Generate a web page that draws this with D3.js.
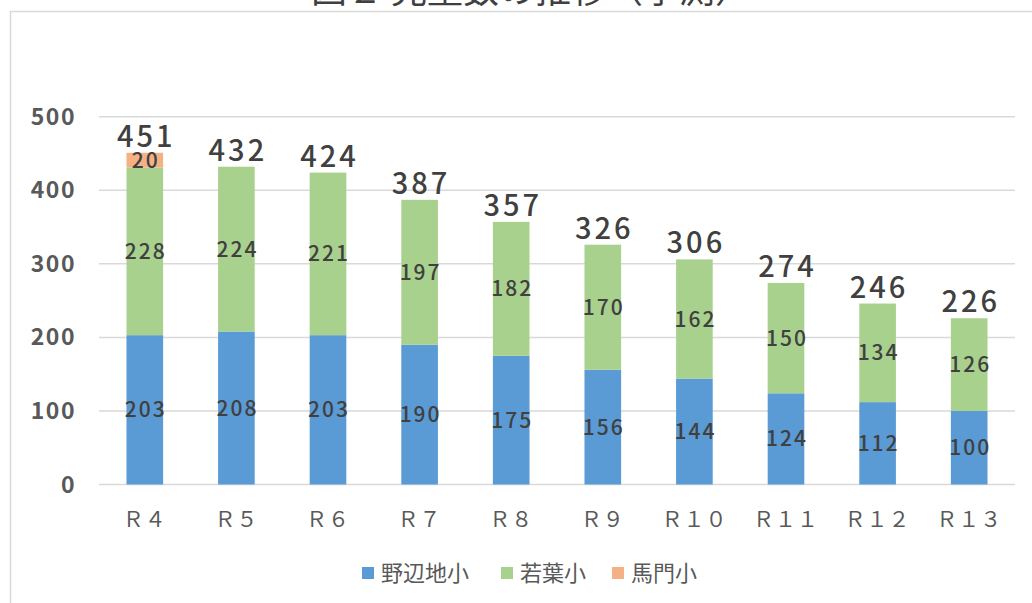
<!DOCTYPE html>
<html lang="ja">
<head>
    <meta charset="utf-8">
    <title>図２ 児童数の推移（予測）</title>
    <script src="https://d3js.org/d3.v7.min.js"></script>
    <style>
        body { margin: 0; background: #fff; }
        svg { display: block; font-family: "Noto Sans CJK JP", "Noto Sans", sans-serif; }
    </style>
</head>
<body>
    <script>
        // data
        const years = ['Ｒ４', 'Ｒ５', 'Ｒ６', 'Ｒ７', 'Ｒ８', 'Ｒ９', 'Ｒ１０', 'Ｒ１１', 'Ｒ１２', 'Ｒ１３']
        const seriesNames = ['野辺地小', '若葉小', '馬門小']
        const nohejiValues = [203, 208, 203, 190, 175, 156, 144, 124, 112, 100]
        const wakabaValues = [228, 224, 221, 197, 182, 170, 162, 150, 134, 126]
        const mamonValues = [20, 0, 0, 0, 0, 0, 0, 0, 0, 0]
        const yTicks = [0, 100, 200, 300, 400, 500]
        const colors = ['#5B9BD5', '#A9D18E', '#F4B183']

        const m = { width: 1032, height: 603, left: 99, right: 1015, top: 116.7, bottom: 484.5 }

        const rows = years.map((y, i) => ({
            year: y,
            [seriesNames[0]]: nohejiValues[i],
            [seriesNames[1]]: wakabaValues[i],
            [seriesNames[2]]: mamonValues[i]
        }))
        const stacked = d3.stack().keys(seriesNames)(rows)

        const svg = d3.select('body').append('svg')
            .attr('width', m.width)
            .attr('height', m.height)

        // chart frame (only top and left edges fall inside the picture)
        svg.append('rect')
            .attr('x', 10.5).attr('y', 11.5)
            .attr('width', 1200).attr('height', 800)
            .attr('fill', 'none')
            .attr('stroke', '#d9d9d9')
            .attr('stroke-width', 1.5)

        // title, mostly cut off at the top
        svg.append('text')
            .attr('x', 531).attr('y', 3)
            .attr('text-anchor', 'middle')
            .attr('font-size', 36)
            .attr('fill', '#404040')
            .text('図２ 児童数の推移（予測）')

        const x = d3.scaleBand()
            .domain(years)
            .range([m.left, m.right])
            .paddingInner(0.6)
            .paddingOuter(0.3)

        const y = d3.scaleLinear()
            .domain([0, 500])
            .range([m.bottom, m.top])

        // gridlines
        svg.append('g')
            .selectAll('line')
            .data(yTicks)
            .join('line')
            .attr('x1', m.left).attr('x2', m.right)
            .attr('y1', d => y(d)).attr('y2', d => y(d))
            .attr('stroke', '#d9d9d9')
            .attr('stroke-width', 1.5)

        // y axis labels
        svg.append('g')
            .selectAll('text')
            .data(yTicks)
            .join('text')
            .attr('x', 76)
            .attr('y', d => y(d))
            .attr('dy', '0.35em')
            .attr('text-anchor', 'end')
            .attr('font-size', 23)
            .attr('font-weight', 'bold')
            .attr('letter-spacing', 1.5)
            .attr('fill', '#595959')
            .text(d => d)

        // x axis labels
        svg.append('g')
            .selectAll('text')
            .data(years)
            .join('text')
            .attr('x', d => x(d) + x.bandwidth() / 2)
            .attr('y', 527)
            .attr('text-anchor', 'middle')
            .attr('font-size', 21)
            .attr('letter-spacing', 1)
            .attr('fill', '#595959')
            .text(d => d)

        // stacked bars
        const layers = svg.append('g')
            .selectAll('g')
            .data(stacked)
            .join('g')
            .attr('fill', (d, i) => colors[i])

        layers.selectAll('rect')
            .data(d => d.map(v => ({ v: v, year: v.data.year })))
            .join('rect')
            .attr('x', d => x(d.year))
            .attr('width', x.bandwidth())
            .attr('y', d => y(d.v[1]))
            .attr('height', d => y(d.v[0]) - y(d.v[1]))

        // segment labels
        layers.selectAll('text')
            .data(d => d.map(v => ({ v: v, year: v.data.year, val: v[1] - v[0] })).filter(d => d.val > 0))
            .join('text')
            .attr('x', d => x(d.year) + x.bandwidth() / 2)
            .attr('y', d => y((d.v[0] + d.v[1]) / 2))
            .attr('dy', '0.36em')
            .attr('dx', 1)
            .attr('text-anchor', 'middle')
            .attr('font-size', 21)
            .attr('font-weight', 500)
            .attr('letter-spacing', 2)
            .attr('fill', '#404040')
            .text(d => d.val)

        // totals above bars
        svg.append('g')
            .selectAll('text')
            .data(rows)
            .join('text')
            .attr('x', d => x(d.year) + x.bandwidth() / 2)
            .attr('y', d => y(d3.sum(seriesNames, k => d[k])) - 6)
            .attr('dx', 1.5)
            .attr('text-anchor', 'middle')
            .attr('font-size', 29)
            .attr('font-weight', 500)
            .attr('letter-spacing', 3)
            .attr('fill', '#404040')
            .text(d => d3.sum(seriesNames, k => d[k]))

        // legend
        const legendX = [362, 501, 612]
        const legend = svg.append('g')
            .selectAll('g')
            .data(seriesNames)
            .join('g')
            .attr('transform', (d, i) => `translate(${legendX[i]},567)`)

        legend.append('rect')
            .attr('width', 12).attr('height', 12)
            .attr('fill', (d, i) => colors[i])

        legend.append('text')
            .attr('x', 19)
            .attr('y', 14)
            .attr('font-size', 22)
            .attr('fill', '#595959')
            .text(d => d)
    </script>
</body>
</html>
